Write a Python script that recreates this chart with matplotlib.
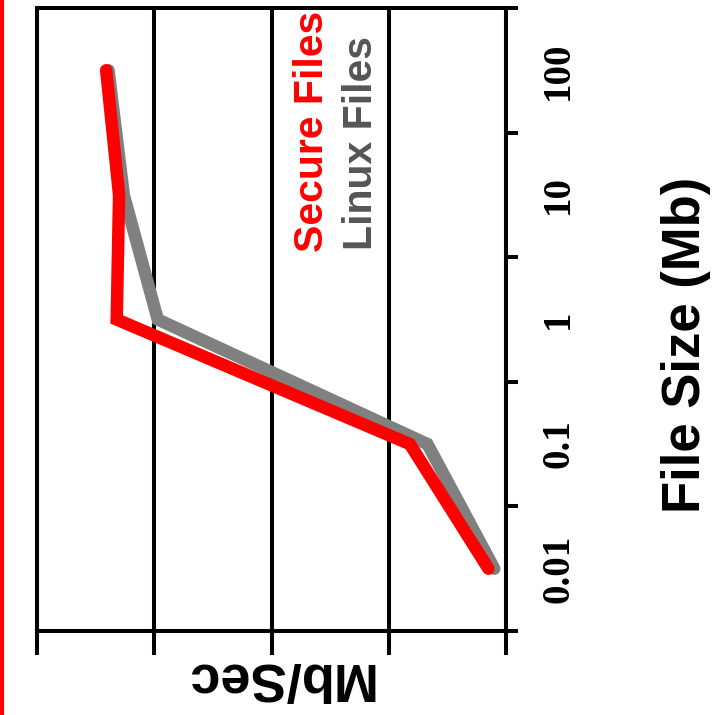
"""Secure vs Linux file throughput by file size (rotated layout)"""

import matplotlib
matplotlib.use('Agg')
import matplotlib.pyplot as plt
import matplotlib.transforms as mtransforms
from matplotlib.lines import Line2D

# File size categories (Mb) and throughput (Mb/Sec)
file_sizes = ['0.01', '0.1', '1', '10', '100']
secure_files = [1.5, 8.2, 33.2, 33.0, 34.1]
linux_files = [1.0, 6.7, 29.7, 32.6, 33.9]
speed_ticks = [0, 10, 20, 30, 40]

W, H = 714, 715


def fx(px):
  return px / W


def fy(py):
  return 1 - py / H


fig = plt.figure(figsize=(W / 100, H / 100), dpi=100)
ax = fig.add_axes([fx(37), fy(631), fx(506) - fx(37), fy(8) - fy(631)])

pos = list(range(len(file_sizes)))
ax.plot(linux_files, pos, color='#808080', lw=9, solid_capstyle='round', solid_joinstyle='miter', zorder=3)
ax.plot(secure_files, pos, color='#ff0000', lw=9, solid_capstyle='round', solid_joinstyle='miter', zorder=4)

# value axis runs right to left (chart is turned on its side)
ax.set_xlim(speed_ticks[-1], speed_ticks[0])
ax.set_xticks(speed_ticks)
ax.set_xticklabels([])
ax.grid(axis='x', color='black', lw=2.9, zorder=1)
ax.tick_params(axis='x', direction='out', length=17, width=2.9)

# category axis: tick marks between categories, labels at the centres
ax.set_ylim(-0.5, len(file_sizes) - 0.5)
ax.set_yticks([p - 0.5 for p in pos] + [pos[-1] + 0.5])
ax.set_yticklabels([])
ax.yaxis.tick_right()
ax.tick_params(axis='y', direction='out', length=8.6, width=2.9)
lbl_tr = mtransforms.blended_transform_factory(fig.transFigure, ax.transData)
for p, s in zip(pos, file_sizes):
  ax.text(fx(568), p, s, transform=lbl_tr, rotation=90, rotation_mode='anchor', ha='center', va='baseline',
          fontsize=28, fontweight='bold', family='Liberation Serif', clip_on=False)
for sp in ax.spines.values():
  sp.set_linewidth(2.9)

sans = 'Liberation Sans'
fig.text(fx(700), fy(513), 'File Size (Mb)', rotation=90, rotation_mode='anchor', ha='left', va='baseline',
         fontsize=38, fontweight='bold', family=sans)
fig.text(fx(372), fy(663), 'Mb/Sec', rotation=180, rotation_mode='anchor', ha='left', va='baseline',
         fontsize=39, fontweight='bold', family=sans)
fig.text(fx(323), fy(252), 'Secure Files', rotation=90, rotation_mode='anchor', ha='left', va='baseline',
         fontsize=29.5, fontweight='bold', family=sans, color='#ff0000')
fig.text(fx(372), fy(250), 'Linux Files', rotation=90, rotation_mode='anchor', ha='left', va='baseline',
         fontsize=29.5, fontweight='bold', family=sans, color='#555555')

# red rule down the left edge
fig.add_artist(Line2D([fx(2), fx(2)], [0, 1], color='#ff0000', lw=3, transform=fig.transFigure))

fig.savefig('out.png', dpi=100)
